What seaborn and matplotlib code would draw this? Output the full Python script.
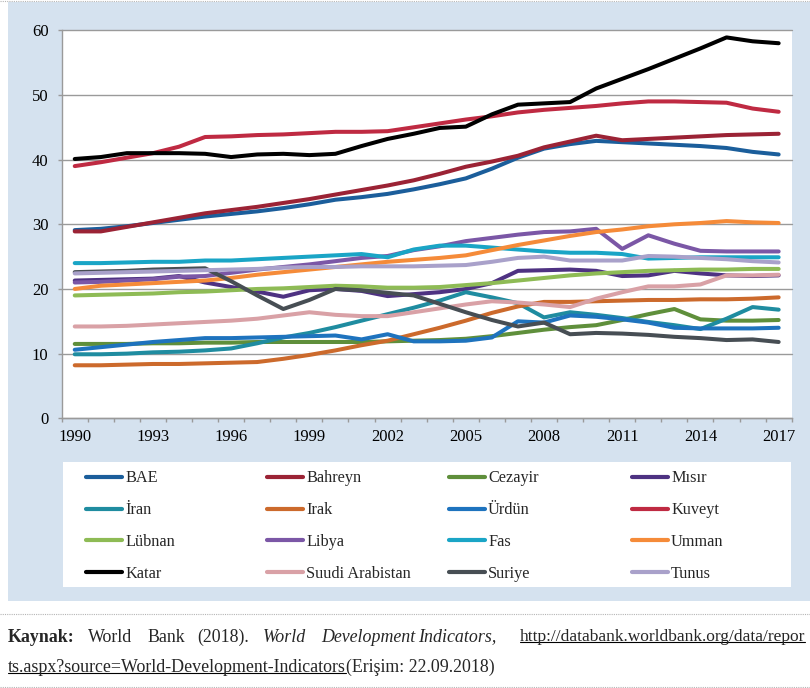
import numpy as np
import pandas as pd
import matplotlib
matplotlib.use("Agg")
import matplotlib.pyplot as plt
import seaborn as sns
from matplotlib.patches import Rectangle
from matplotlib.lines import Line2D

sns.set_theme(style="white")
plt.rcParams["font.family"] = ["Liberation Serif", "DejaVu Serif"]

W, H = 810, 688

years = list(range(1990, 2018))

countries = ["BAE", "Bahreyn", "Cezayir", "Mısır",
             "İran", "Irak", "Ürdün", "Kuveyt",
             "Lübnan", "Libya", "Fas", "Umman",
             "Katar", "Suudi Arabistan", "Suriye", "Tunus"]

colors = ["#1B5E9B", "#9B2335", "#5F8F3B", "#4E3282",
          "#1F8CA0", "#CC6A2C", "#1E73BE", "#BF2A42",
          "#8EBB55", "#7B57A6", "#1AA5C6", "#F58B39",
          "#000000", "#D9A1A6", "#474E54", "#A9A1CA"]

bae = [29.1, 29.3, 29.7, 30.2, 30.7, 31.2, 31.6, 32.0, 32.5, 33.1, 33.8, 34.2, 34.7, 35.4,
       36.2, 37.1, 38.6, 40.3, 41.7, 42.4, 42.9, 42.7, 42.5, 42.3, 42.1, 41.8, 41.2, 40.8]
bahreyn = [28.9, 28.9, 29.6, 30.3, 31.0, 31.7, 32.2, 32.7, 33.3, 33.9, 34.6, 35.3, 36.0, 36.8,
           37.8, 38.9, 39.7, 40.6, 41.9, 42.8, 43.7, 43.0, 43.2, 43.4, 43.6, 43.8, 43.9, 44.0]
cezayir = [11.5, 11.5, 11.5, 11.6, 11.6, 11.7, 11.7, 11.8, 11.8, 11.8, 11.8, 11.8, 11.9, 12.0,
           12.1, 12.3, 12.7, 13.2, 13.7, 14.1, 14.4, 15.2, 16.1, 16.9, 15.3, 15.1, 15.1, 15.2]
misir = [21.3, 21.4, 21.5, 21.6, 22.0, 21.0, 20.3, 19.6, 18.8, 19.8, 20.0, 19.7, 18.9, 19.2,
         19.5, 20.0, 20.9, 22.8, 22.9, 23.0, 22.8, 22.0, 22.1, 22.8, 22.4, 22.1, 22.0, 22.1]
iran = [9.9, 9.9, 10.0, 10.2, 10.3, 10.5, 10.8, 11.6, 12.5, 13.2, 14.1, 15.1, 16.1, 17.1,
        18.2, 19.5, 18.7, 17.8, 15.6, 16.4, 16.0, 15.5, 14.9, 14.4, 13.8, 15.4, 17.2, 16.8]
irak = [8.2, 8.2, 8.3, 8.4, 8.4, 8.5, 8.6, 8.7, 9.2, 9.8, 10.5, 11.3, 12.0, 13.0,
        14.0, 15.1, 16.3, 17.3, 18.0, 18.0, 18.1, 18.2, 18.3, 18.3, 18.4, 18.4, 18.5, 18.7]
urdun = [10.6, 11.0, 11.4, 11.8, 12.1, 12.4, 12.4, 12.5, 12.6, 12.7, 12.8, 12.2, 13.0, 11.9,
         11.9, 12.0, 12.5, 15.0, 14.8, 15.9, 15.7, 15.3, 14.8, 14.0, 13.9, 13.9, 13.9, 14.0]
kuveyt = [39.0, 39.6, 40.3, 41.0, 42.0, 43.5, 43.6, 43.8, 43.9, 44.1, 44.3, 44.3, 44.4, 45.0,
          45.6, 46.2, 46.7, 47.3, 47.7, 48.0, 48.3, 48.7, 49.0, 49.0, 48.9, 48.8, 47.9, 47.4]
lubnan = [19.0, 19.1, 19.2, 19.3, 19.5, 19.6, 19.8, 20.0, 20.1, 20.3, 20.5, 20.4, 20.2, 20.2,
          20.3, 20.6, 20.9, 21.3, 21.7, 22.1, 22.4, 22.6, 22.8, 22.9, 23.0, 23.0, 23.1, 23.1]
libya = [21.0, 21.1, 21.3, 21.5, 21.9, 22.0, 22.5, 23.0, 23.4, 23.8, 24.3, 24.8, 25.1, 26.0,
         26.6, 27.4, 27.9, 28.4, 28.8, 28.9, 29.3, 26.2, 28.3, 27.0, 25.9, 25.8, 25.8, 25.8]
fas = [24.0, 24.0, 24.1, 24.2, 24.2, 24.4, 24.4, 24.6, 24.8, 25.0, 25.2, 25.4, 24.9, 26.1,
       26.7, 26.7, 26.4, 26.1, 25.8, 25.6, 25.6, 25.4, 24.7, 24.8, 24.9, 24.9, 24.9, 24.9]
umman = [20.0, 20.5, 20.7, 20.9, 21.1, 21.3, 21.7, 22.2, 22.6, 23.0, 23.4, 23.8, 24.2, 24.5,
         24.8, 25.2, 26.0, 26.8, 27.5, 28.2, 28.8, 29.2, 29.7, 30.0, 30.2, 30.5, 30.3, 30.2]
katar = [40.1, 40.4, 41.0, 41.0, 41.0, 40.9, 40.4, 40.8, 40.9, 40.7, 40.9, 42.1, 43.2, 44.0,
         44.9, 45.1, 47.0, 48.5, 48.7, 48.9, 51.0, 52.5, 54.0, 55.6, 57.2, 58.9, 58.3, 58.0]
suudi = [14.2, 14.2, 14.3, 14.5, 14.7, 14.9, 15.1, 15.4, 15.9, 16.4, 16.0, 15.8, 15.8, 16.4,
         17.0, 17.6, 18.1, 17.9, 17.6, 17.2, 18.5, 19.5, 20.4, 20.4, 20.7, 22.1, 22.1, 22.2]
suriye = [22.6, 22.7, 22.8, 23.0, 23.1, 23.2, 21.2, 19.0, 16.9, 18.3, 20.0, 19.8, 19.4, 19.0,
          17.7, 16.4, 15.2, 14.2, 14.8, 13.0, 13.2, 13.1, 12.9, 12.6, 12.4, 12.1, 12.2, 11.8]
tunus = [22.4, 22.5, 22.6, 22.7, 22.8, 22.9, 23.0, 23.1, 23.3, 23.4, 23.4, 23.5, 23.5, 23.5,
         23.6, 23.7, 24.2, 24.8, 25.0, 24.4, 24.4, 24.4, 25.1, 25.0, 24.8, 24.6, 24.3, 24.1]

series = [bae, bahreyn, cezayir, misir, iran, irak, urdun, kuveyt,
          lubnan, libya, fas, umman, katar, suudi, suriye, tunus]

label_years = list(range(1990, 2018, 3))
y_ticks = list(range(0, 61, 10))

df = pd.DataFrame({
    "year": years * len(countries),
    "country": [c for c in countries for _ in years],
    "value": [v for s in series for v in s],
})
palette = dict(zip(countries, colors))


def fx(px):
    return px / W


def fy(py):
    return 1 - py / H


fig = plt.figure(figsize=(W / 100, H / 100), dpi=100)
fig.patch.set_facecolor("white")

# light blue panel + white legend box
fig.add_artist(Rectangle((fx(7.5), fy(601)), fx(810) - fx(7.5), fy(2) - fy(601),
                         transform=fig.transFigure, facecolor="#D5E2EF",
                         edgecolor="none", zorder=-2))
fig.add_artist(Rectangle((fx(63), fy(587)), fx(791) - fx(63), fy(462) - fy(587),
                         transform=fig.transFigure, facecolor="white",
                         edgecolor="none", zorder=-1))
for yy in [0.8, 614.3, 686.7]:
    fig.add_artist(Line2D([0, 1], [fy(yy), fy(yy)], transform=fig.transFigure,
                          color="#B5B5B5", lw=0.8, linestyle=(0, (1, 1))))

ax = fig.add_axes([fx(61.7), fy(418.3), fx(791.7) - fx(61.7), fy(30.3) - fy(418.3)])
ax.set_facecolor("white")

sns.lineplot(data=df, x="year", y="value", hue="country", hue_order=countries,
             palette=palette, linewidth=2.9, legend=False, ax=ax,
             solid_capstyle="round", solid_joinstyle="round")

ax.set_xlim(1989.5, 2017.5)
ax.set_ylim(0, 60)
ax.set_xticks(label_years)
ax.set_xticklabels([str(y) for y in label_years])
ax.set_xticks([y - 0.5 for y in years] + [2017.5], minor=True)
ax.set_yticks(y_ticks)
ax.set_xlabel("")
ax.set_ylabel("")

grid_c = "#9A9A9A"
ax.yaxis.grid(True, color=grid_c, lw=1.0)
ax.xaxis.grid(False)
ax.set_axisbelow(True)
for g in ax.get_ygridlines():
    g.set_clip_on(False)
for s in ["top", "right"]:
    ax.spines[s].set_visible(False)
for s in ["left", "bottom"]:
    ax.spines[s].set_color(grid_c)
    ax.spines[s].set_linewidth(1.0)

ax.tick_params(axis="x", which="major", length=0, pad=8, labelsize=12, colors="black")
ax.tick_params(axis="x", which="minor", length=3, width=1.0, color=grid_c,
               direction="out", bottom=True)
ax.tick_params(axis="y", which="major", length=3, width=1.0, color=grid_c,
               direction="out", left=True, pad=6.5, labelsize=12, labelcolor="black")

# legend: 4 columns, filled row by row
handles = [Line2D([], [], color=c, lw=3.0, solid_capstyle="round") for c in colors]
col_x = [86, 267, 449, 632]
for j, cx in enumerate(col_x):
    idx = list(range(j, len(countries), 4))
    fig.legend([handles[i] for i in idx], [countries[i] for i in idx],
               loc="upper left", bbox_to_anchor=(fx(cx), fy(470.5)),
               bbox_transform=fig.transFigure, frameon=False, fontsize=11.7,
               borderpad=0, borderaxespad=0, handlelength=2.2,
               handletextpad=0.2, labelspacing=0.97)

# source note
fs = 12.9
y1, y2 = fy(637), fy(667)
fig.text(fx(8), y1, "Kaynak:", fontsize=fs, fontweight="bold", va="center")
for word, px in [("World", 88), ("Bank", 147), ("(2018).", 197)]:
    fig.text(fx(px), y1, word, fontsize=fs, va="center")
for word, px in [("World", 263), ("Development", 321), ("Indicators,", 418)]:
    fig.text(fx(px), y1, word, fontsize=fs, style="italic", va="center")
url1 = fig.text(fx(520), y1, "http://databank.worldbank.org/data/repor", fontsize=12.5, va="center")
url2 = fig.text(fx(8), y2, "ts.aspx?source=World-Development-Indicators", fontsize=fs, va="center")

fig.canvas.draw()
r = fig.canvas.get_renderer()
inv = fig.transFigure.inverted()
for t in [url1, url2]:
    bb = t.get_window_extent(r)
    (x0, yb), (x1, _) = inv.transform([(bb.x0, bb.y0 + 3), (bb.x1, bb.y0 + 3)])
    fig.add_artist(Line2D([x0, x1], [yb, yb], transform=fig.transFigure,
                          color="black", lw=0.8))
bb2 = url2.get_window_extent(r)
fig.text(inv.transform((bb2.x1, 0))[0], y2, "(Erişim: 22.09.2018)", fontsize=fs, va="center")

fig.savefig("out.png", dpi=100)
